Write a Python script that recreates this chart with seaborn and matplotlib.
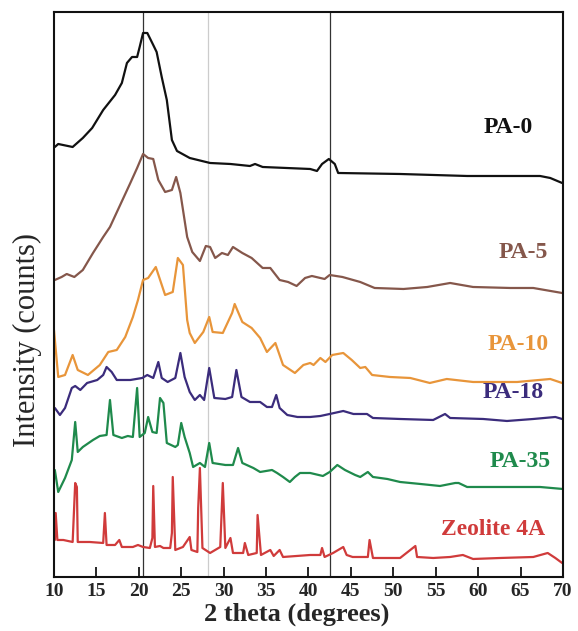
import matplotlib
matplotlib.use("Agg")
import matplotlib.pyplot as plt
import seaborn as sns
import pandas as pd

sns.set_style("ticks")
plt.rcParams["font.family"] = ["Liberation Serif", "DejaVu Serif"]

# 2 theta (deg) and stacked intensity (arbitrary counts)
pa0_x = [10.1, 10.5, 12.2, 13.4, 14.5, 15.8, 17.2, 18.0, 18.6, 19.2, 19.8, 20.1, 20.5, 21.0, 21.7,
         22.1, 22.7, 23.3, 23.9, 24.5, 26.0, 28.4, 30.8, 33.1, 33.7, 34.6, 40.2, 41.0, 41.6, 42.4,
         43.1, 43.5, 50.8, 58.7, 67.3, 68.5, 69.9]
pa0_y = [430, 433, 430, 439, 449, 467, 482, 494, 514, 520, 520, 530, 544, 544, 532,
         525, 500, 477, 437, 426, 419, 414, 413, 411, 413, 410, 408, 406, 413, 418,
         413, 404, 403, 401, 401, 399, 394]

pa5_x = [10.1, 10.9, 11.5, 12.4, 13.4, 14.6, 15.8, 16.6, 17.8, 19.0, 19.8, 20.5, 21.1, 21.7, 22.3,
         23.1, 23.9, 24.4, 24.9, 25.7, 26.3, 27.2, 27.9, 28.4, 29.0, 29.8, 30.5, 31.1, 32.2, 33.3,
         34.6, 35.5, 36.6, 37.6, 38.6, 39.6, 40.4, 41.9, 42.5, 44.0, 46.1, 47.8, 51.2, 54.0, 56.7,
         59.4, 63.8, 66.5, 69.9]
pa5_y = [297, 300, 303, 300, 307, 324, 340, 350, 372, 394, 409, 423, 419, 418, 397,
         385, 387, 400, 384, 340, 325, 316, 331, 330, 319, 324, 322, 330, 324, 319,
         309, 309, 297, 295, 291, 299, 301, 298, 302, 300, 295, 289, 288, 290, 294,
         290, 289, 289, 284]

pa10_x = [10.0, 10.5, 11.3, 12.2, 12.8, 14.0, 15.4, 16.4, 17.4, 18.4, 19.3, 19.9, 20.5, 21.1, 22.0,
          23.1, 24.0, 24.6, 25.2, 25.7, 26.0, 26.6, 27.6, 28.3, 28.7, 29.9, 31.0, 31.3, 32.2, 33.3,
          34.3, 35.1, 36.1, 37.0, 38.4, 39.4, 40.2, 40.6, 41.4, 42.0, 42.8, 44.1, 45.1, 46.1, 46.7,
          47.5, 49.6, 52.0, 54.3, 56.3, 59.4, 64.6, 68.5, 69.9]
pa10_y = [247, 200, 202, 222, 207, 202, 212, 225, 227, 240, 260, 277, 297, 299, 310,
          282, 285, 319, 312, 257, 244, 234, 245, 260, 245, 244, 264, 273, 255, 249,
          239, 225, 234, 212, 204, 212, 214, 212, 219, 215, 222, 224, 217, 209, 210,
          202, 200, 199, 194, 198, 195, 195, 198, 194]

pa18_x = [10.1, 10.7, 11.3, 12.1, 12.5, 13.1, 13.9, 15.1, 15.8, 16.2, 16.8, 17.4, 19.0, 20.4, 21.0,
          21.7, 22.3, 22.7, 23.4, 24.3, 24.9, 25.4, 26.0, 26.6, 27.2, 27.7, 28.3, 28.9, 30.2, 31.0,
          31.5, 32.1, 33.1, 34.3, 35.1, 35.7, 36.2, 36.6, 37.5, 38.7, 40.2, 41.4, 42.5, 44.1, 45.3,
          46.9, 47.6, 50.8, 54.7, 56.1, 56.7, 60.6, 63.4, 66.5, 69.1, 69.9]
pa18_y = [169, 162, 169, 189, 191, 187, 194, 197, 202, 210, 205, 197, 197, 199, 202,
          199, 215, 199, 195, 199, 224, 200, 185, 177, 182, 177, 209, 179, 178, 180,
          207, 180, 175, 175, 170, 170, 182, 169, 162, 160, 160, 161, 163, 166, 163,
          163, 159, 158, 157, 163, 159, 158, 156, 158, 160, 158]

pa35_x = [10.1, 10.5, 11.3, 12.1, 12.5, 12.8, 13.4, 14.6, 15.4, 16.2, 16.6, 17.0, 18.0, 18.7, 19.3,
          19.8, 20.1, 20.7, 21.1, 21.6, 22.1, 22.5, 22.9, 23.3, 24.3, 24.6, 25.0, 25.4, 26.0, 26.4,
          27.2, 27.8, 28.3, 28.7, 30.2, 31.1, 31.7, 32.2, 33.5, 34.3, 35.7, 36.3, 37.0, 37.8, 38.4,
          39.0, 40.2, 41.7, 42.5, 43.4, 44.3, 45.5, 46.1, 47.0, 47.6, 49.3, 50.8, 53.2, 55.5, 57.3,
          57.7, 58.7, 62.6, 67.3, 70.0]
pa35_y = [107, 85, 99, 117, 155, 125, 130, 137, 141, 142, 177, 142, 139, 141, 140,
          189, 140, 144, 160, 145, 144, 179, 174, 134, 130, 132, 154, 140, 124, 110,
          114, 110, 134, 114, 112, 112, 129, 114, 109, 105, 107, 104, 100, 95, 100,
          104, 104, 101, 105, 112, 107, 102, 100, 105, 100, 98, 95, 93, 91, 94,
          94, 90, 90, 90, 88]

zeo_x = [10.1, 10.2, 10.4, 11.1, 12.2, 12.5, 12.7, 12.8, 14.2, 15.8, 16.0, 16.2, 17.2, 17.7, 18.0,
         19.3, 19.9, 20.5, 21.3, 21.6, 21.7, 21.9, 22.5, 22.9, 23.7, 23.9, 24.0, 24.3, 25.2, 26.0,
         26.2, 26.9, 27.0, 27.2, 27.5, 28.4, 29.6, 29.9, 30.2, 30.8, 31.1, 32.3, 32.5, 32.9, 33.9,
         34.0, 34.4, 35.5, 35.9, 36.6, 37.0, 38.6, 40.2, 41.4, 41.6, 41.9, 42.9, 44.1, 44.5, 45.2,
         47.0, 47.2, 47.6, 50.8, 52.6, 52.8, 54.7, 56.7, 58.2, 59.4, 62.6, 66.5, 68.2, 69.1, 69.9]
zeo_y = [37, 64, 37, 37, 35, 94, 90, 35, 35, 34, 64, 32, 32, 37, 30,
         30, 32, 30, 29, 39, 91, 30, 31, 29, 29, 44, 100, 27, 30, 40,
         27, 25, 69, 109, 29, 24, 30, 94, 29, 39, 24, 24, 34, 22, 24,
         62, 22, 27, 21, 27, 20, 21, 22, 22, 29, 20, 24, 30, 22, 20,
         20, 37, 19, 19, 31, 20, 19, 20, 22, 18, 19, 20, 24, 19, 14]

samples = ["PA-0", "PA-5", "PA-10", "PA-18", "PA-35", "Zeolite 4A"]
colors = ["#111111", "#85574B", "#E8953A", "#3B2C7C", "#1F8A4C", "#D03B3B"]
label_x = [63.5, 65.3, 64.7, 64.1, 64.9, 61.8]
label_y = [449, 324, 232, 184, 115, 47]
ref_lines = [20.5, 28.2, 42.5]

series = [(pa0_x, pa0_y), (pa5_x, pa5_y), (pa10_x, pa10_y),
          (pa18_x, pa18_y), (pa35_x, pa35_y), (zeo_x, zeo_y)]
frames = []
for name, (xs, ys) in zip(samples, series):
    frames.append(pd.DataFrame({"2theta": xs, "intensity": ys, "sample": name}))
df = pd.concat(frames, ignore_index=True)

fig = plt.figure(figsize=(5.78, 6.31), dpi=100)
ax = fig.add_axes([0.0934, 0.0856, 0.8806, 0.8954])

sns.lineplot(data=df, x="2theta", y="intensity", hue="sample", palette=colors,
             estimator=None, sort=False, linewidth=1.6, legend=False, ax=ax)

for i, xv in enumerate(ref_lines):
    ax.axvline(xv, color="#CCCCCC" if i == 1 else "#333333", linewidth=0.9, zorder=0)

for name, c, lx, ly in zip(samples, colors, label_x, label_y):
    ax.text(lx, ly, name, color=c, fontsize=17, fontweight="bold", ha="center", va="center")

ax.set_xlim(10, 70)
ax.set_ylim(0, 565)
ax.set_xticks(range(10, 71, 5))
ax.set_yticks([])
ax.tick_params(axis="x", direction="in", length=7, width=1.4, labelsize=14, pad=4)
for lab in ax.get_xticklabels():
    lab.set_fontweight("bold")
for s in ax.spines.values():
    s.set_linewidth(1.5)
    s.set_color("#111111")
ax.set_xlabel("2 theta (degrees)", fontsize=19, fontweight="bold")
ax.xaxis.set_label_coords(0.477, -0.045)
ax.set_ylabel("Intensity (counts)", fontsize=22)
ax.yaxis.set_label_coords(-0.024, 0.42)

fig.savefig("out.png", dpi=100)
